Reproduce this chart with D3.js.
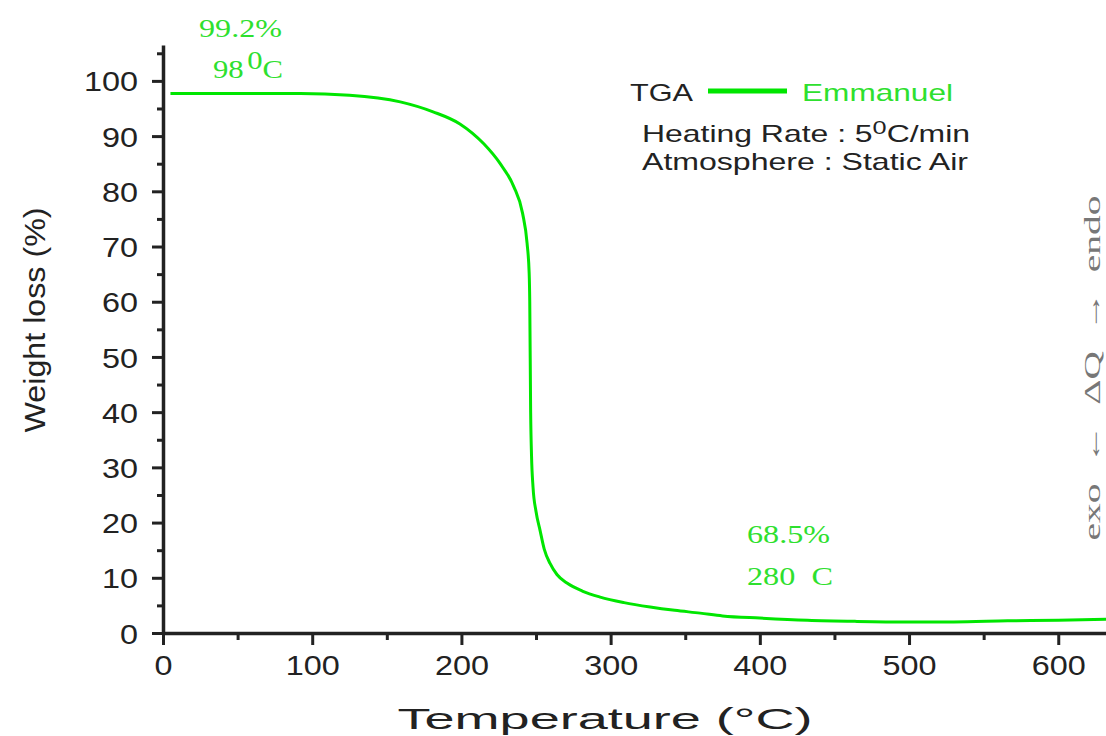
<!DOCTYPE html>
<html>
<head>
<meta charset="utf-8">
<script src="https://cdn.jsdelivr.net/npm/d3@7"></script>
<style>
  body { margin: 0; background: #fff; }
  text { white-space: pre; }
</style>
</head>
<body>
<svg id="chart"></svg>
<script>
// TGA curve
const temps   = [5, 50, 92, 125, 159, 181, 199, 215, 226, 235, 241, 244, 245.4, 245.8, 246.4, 247, 248, 250, 252.7, 255.5, 259.4, 264, 271, 281, 293, 309, 326.5, 343, 360, 375, 400, 432, 465, 499, 530, 566, 600, 632];
const weights = [97.7, 97.7, 97.7, 97.4, 96.2, 94.4, 92.2, 88.6, 85, 80.9, 76, 70.6, 65.2, 60, 40, 32, 26.4, 22, 18.6, 15.2, 12.6, 10.6, 9.0, 7.6, 6.5, 5.5, 4.7, 4.1, 3.6, 3.1, 2.7, 2.3, 2.1, 2.0, 2.0, 2.2, 2.3, 2.5];

const xTicks = [0, 100, 200, 300, 400, 500, 600];
const yTicks = [0, 10, 20, 30, 40, 50, 60, 70, 80, 90, 100];

const width = 1106, height = 736;
const margin = {top: 45, right: 0, bottom: 103, left: 163};

const green = "#00e600";
const textGreen = "#2ee02e";
const axisColor = "#222";
const sans = "'Liberation Sans', Arial, sans-serif";
const serif = "'Liberation Serif', 'Times New Roman', serif";

const svg = d3.select("#chart")
    .attr("width", width)
    .attr("height", height);

const x = d3.scaleLinear()
    .domain([0, 632])
    .range([margin.left, width - margin.right]);

const y = d3.scaleLinear()
    .domain([0, 106.5])
    .range([height - margin.bottom, margin.top]);

// minor ticks
svg.append("g")
    .attr("transform", "translate(0," + y(0) + ")")
    .call(d3.axisBottom(x).tickValues(d3.range(50, 632, 100)).tickSize(7).tickFormat(""))
    .call(g => g.select(".domain").remove())
    .selectAll("line").attr("stroke", axisColor).attr("stroke-width", 3);

svg.append("g")
    .attr("transform", "translate(" + x(0) + ",0)")
    .call(d3.axisLeft(y).tickValues(d3.range(5, 106, 10)).tickSize(6).tickFormat(""))
    .call(g => g.select(".domain").remove())
    .selectAll("line").attr("stroke", axisColor).attr("stroke-width", 3);

// x axis
const xAxis = svg.append("g")
    .attr("transform", "translate(0," + y(0) + ")")
    .call(d3.axisBottom(x).tickValues(xTicks).tickSize(12).tickPadding(10).tickSizeOuter(0));
xAxis.select(".domain").attr("stroke", axisColor).attr("stroke-width", 3.5);
xAxis.selectAll(".tick line").attr("stroke", axisColor).attr("stroke-width", 3);
xAxis.selectAll(".tick text")
    .attr("fill", "#222")
    .style("font-family", sans)
    .style("font-size", "28px")
    .attr("textLength", d => String(d).length * 18)
    .attr("lengthAdjust", "spacingAndGlyphs");

// y axis
const yAxis = svg.append("g")
    .attr("transform", "translate(" + x(0) + ",0)")
    .call(d3.axisLeft(y).tickValues(yTicks).tickSize(11).tickPadding(14).tickSizeOuter(0));
yAxis.select(".domain").attr("stroke", axisColor).attr("stroke-width", 3.5);
yAxis.selectAll(".tick line").attr("stroke", axisColor).attr("stroke-width", 3);
yAxis.selectAll(".tick text")
    .attr("fill", "#222")
    .attr("dy", "0.36em")
    .style("font-family", sans)
    .style("font-size", "28px")
    .attr("textLength", d => String(d).length * 18)
    .attr("lengthAdjust", "spacingAndGlyphs");

// axis titles
svg.append("text")
    .attr("x", 605).attr("y", 729)
    .attr("text-anchor", "middle")
    .attr("fill", "#222")
    .style("font-family", sans)
    .style("font-size", "29px")
    .attr("textLength", 415)
    .attr("lengthAdjust", "spacingAndGlyphs")
    .text("Temperature (°C)");

svg.append("text")
    .attr("transform", "translate(45,320) rotate(-90)")
    .attr("text-anchor", "middle")
    .attr("fill", "#222")
    .style("font-family", sans)
    .style("font-size", "29px")
    .attr("textLength", 225)
    .attr("lengthAdjust", "spacingAndGlyphs")
    .text("Weight loss (%)");

// curve
const line = d3.line()
    .x((d, i) => x(temps[i]))
    .y(d => y(d))
    .curve(d3.curveMonotoneX);

svg.append("path")
    .datum(weights)
    .attr("fill", "none")
    .attr("stroke", green)
    .attr("stroke-width", 3)
    .attr("d", line);

// annotations
svg.append("text")
    .attr("x", 199).attr("y", 37)
    .attr("fill", textGreen)
    .style("font-family", serif)
    .style("font-size", "25px")
    .attr("textLength", 83)
    .attr("lengthAdjust", "spacingAndGlyphs")
    .text("99.2%");

const t98 = svg.append("text")
    .attr("x", 213).attr("y", 78)
    .attr("fill", textGreen)
    .style("font-family", serif)
    .style("font-size", "26px")
    .attr("textLength", 70)
    .attr("lengthAdjust", "spacingAndGlyphs");
t98.append("tspan").text("98");
t98.append("tspan").attr("dx", 3).attr("dy", -9).text("0");
t98.append("tspan").attr("dy", 9).text("C");

svg.append("text")
    .attr("x", 747).attr("y", 543)
    .attr("fill", textGreen)
    .style("font-family", serif)
    .style("font-size", "25px")
    .attr("textLength", 83)
    .attr("lengthAdjust", "spacingAndGlyphs")
    .text("68.5%");

svg.append("text")
    .attr("x", 747).attr("y", 585)
    .attr("fill", textGreen)
    .style("font-family", serif)
    .style("font-size", "25px")
    .attr("textLength", 86)
    .attr("lengthAdjust", "spacingAndGlyphs")
    .text("280  C");

// legend
svg.append("text")
    .attr("x", 630).attr("y", 101)
    .attr("fill", "#222")
    .style("font-family", sans)
    .style("font-size", "24px")
    .attr("textLength", 63)
    .attr("lengthAdjust", "spacingAndGlyphs")
    .text("TGA");

svg.append("line")
    .attr("x1", 708).attr("x2", 787)
    .attr("y1", 91).attr("y2", 91)
    .attr("stroke", green)
    .attr("stroke-width", 5);

svg.append("text")
    .attr("x", 802).attr("y", 101)
    .attr("fill", textGreen)
    .style("font-family", sans)
    .style("font-size", "24px")
    .attr("textLength", 151)
    .attr("lengthAdjust", "spacingAndGlyphs")
    .text("Emmanuel");

const heat = svg.append("text")
    .attr("x", 642).attr("y", 142)
    .attr("fill", "#222")
    .style("font-family", sans)
    .style("font-size", "24px")
    .attr("textLength", 328)
    .attr("lengthAdjust", "spacingAndGlyphs");
heat.append("tspan").text("Heating Rate : 5");
heat.append("tspan").attr("dy", -8).style("font-size", "19px").text("0");
heat.append("tspan").attr("dy", 8).text("C/min");

svg.append("text")
    .attr("x", 642).attr("y", 170)
    .attr("fill", "#222")
    .style("font-family", sans)
    .style("font-size", "24px")
    .attr("textLength", 326)
    .attr("lengthAdjust", "spacingAndGlyphs")
    .text("Atmosphere : Static Air");

// right-hand DTA label
svg.append("text")
    .attr("transform", "translate(1100,368) rotate(-90)")
    .attr("text-anchor", "middle")
    .attr("fill", "#777")
    .style("font-family", serif)
    .style("font-size", "24px")
    .attr("textLength", 345)
    .attr("lengthAdjust", "spacingAndGlyphs")
    .text("exo  ←  ΔQ  →  endo");
</script>
</body>
</html>
